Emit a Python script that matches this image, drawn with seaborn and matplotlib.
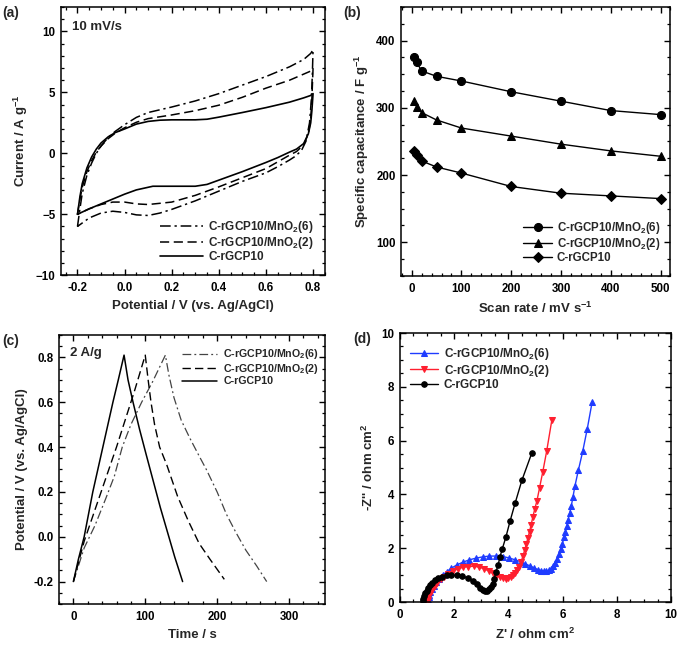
import matplotlib
matplotlib.use('Agg')
import matplotlib.pyplot as plt
from matplotlib.ticker import MultipleLocator, FormatStrFormatter
import seaborn as sns

# ---- (a) cyclic voltammograms at 10 mV/s (closed loops, listed in drawing order)
cv6_x = [-0.2, -0.19, -0.18, -0.16, -0.14, -0.12, -0.1, -0.07, -0.04, 0.0, 0.05, 0.1, 0.2, 0.3, 0.4, 0.5, 0.6, 0.7, 0.76, 0.79, 0.8,
         0.797, 0.793, 0.785, 0.77, 0.75, 0.72, 0.7, 0.65, 0.6, 0.5, 0.4, 0.3, 0.2, 0.15, 0.1, 0.05, 0.0, -0.05, -0.1, -0.15, -0.2]
cv6_y = [-6.0, -4.6, -3.3, -1.8, -0.8, 0.0, 0.6, 1.3, 1.8, 2.35, 2.95, 3.35, 3.8, 4.3, 4.9, 5.6, 6.3, 7.1, 7.7, 8.2, 8.5,
         6.5, 4.5, 2.5, 1.0, 0.2, -0.3, -0.55, -1.1, -1.6, -2.3, -3.1, -3.9, -4.6, -4.9, -5.1, -5.05, -4.85, -4.75, -4.9, -5.3, -6.0]
cv2_x = [-0.2, -0.19, -0.18, -0.16, -0.14, -0.12, -0.1, -0.07, -0.04, 0.0, 0.05, 0.1, 0.2, 0.3, 0.4, 0.5, 0.6, 0.7, 0.76, 0.79, 0.8,
         0.795, 0.79, 0.78, 0.76, 0.73, 0.7, 0.65, 0.6, 0.5, 0.4, 0.3, 0.2, 0.1, 0.05, 0.0, -0.05, -0.1, -0.15, -0.2]
cv2_y = [-5.0, -3.8, -2.8, -1.5, -0.6, 0.1, 0.6, 1.2, 1.65, 2.1, 2.55, 2.85, 3.15, 3.5, 3.95, 4.6, 5.35, 6.0, 6.5, 6.75, 7.0,
         4.5, 2.8, 1.6, 0.7, 0.15, -0.15, -0.7, -1.25, -2.0, -2.75, -3.45, -4.0, -4.2, -4.15, -4.0, -4.0, -4.2, -4.55, -5.0]
cv0_x = [-0.2, -0.19, -0.18, -0.16, -0.14, -0.12, -0.1, -0.07, -0.04, 0.0, 0.05, 0.1, 0.15, 0.2, 0.3, 0.35, 0.4, 0.5, 0.6, 0.7, 0.76, 0.79, 0.8,
         0.795, 0.79, 0.78, 0.76, 0.73, 0.7, 0.65, 0.6, 0.5, 0.4, 0.35, 0.3, 0.2, 0.12, 0.05, 0.0, -0.05, -0.1, -0.15, -0.2]
cv0_y = [-5.0, -3.6, -2.5, -1.2, -0.3, 0.35, 0.85, 1.35, 1.7, 2.0, 2.4, 2.62, 2.72, 2.75, 2.75, 2.8, 2.97, 3.35, 3.75, 4.2, 4.55, 4.75, 4.9,
         3.5, 2.5, 1.6, 0.8, 0.35, 0.1, -0.35, -0.75, -1.5, -2.2, -2.55, -2.7, -2.7, -2.7, -3.0, -3.35, -3.75, -4.15, -4.55, -5.0]

# ---- (b) specific capacitance vs scan rate
scan_rate = [5, 10, 20, 50, 100, 200, 300, 400, 500]
cap_mno2_6 = [375, 368, 355, 347, 340, 324, 310, 296, 290]
cap_mno2_2 = [310, 302, 293, 282, 270, 258, 246, 236, 228]
cap_rgcp10 = [236, 230, 221, 212, 203, 183, 173, 169, 165]

# ---- (c) galvanostatic charge/discharge at 2 A/g
gcd6_t = [0, 15, 30, 45, 57, 68, 80, 95, 110, 128, 133, 140, 150, 162, 175, 185, 200, 213, 226, 240, 255, 269]
gcd6_v = [-0.2, -0.05, 0.05, 0.17, 0.27, 0.4, 0.5, 0.6, 0.69, 0.81, 0.72, 0.62, 0.52, 0.44, 0.36, 0.3, 0.2, 0.1, 0.02, -0.06, -0.13, -0.2]
gcd2_t = [0, 15, 30, 45, 60, 75, 85, 100, 104, 108, 113, 120, 130, 145, 160, 175, 190, 210]
gcd2_v = [-0.2, -0.02, 0.12, 0.26, 0.4, 0.55, 0.65, 0.81, 0.7, 0.6, 0.5, 0.4, 0.32, 0.18, 0.07, -0.03, -0.1, -0.19]
gcd0_t = [0, 7, 15, 21, 27, 34, 41, 48, 55, 62.5, 70.5, 76, 83, 92, 101, 111, 121, 131, 141, 152]
gcd0_v = [-0.2, -0.1, 0.0, 0.1, 0.2, 0.3, 0.4, 0.5, 0.6, 0.7, 0.81, 0.7, 0.6, 0.48, 0.37, 0.25, 0.13, 0.02, -0.09, -0.2]

# ---- (d) Nyquist plots
eis6_re = [1.03, 1.04, 1.06, 1.09, 1.13, 1.18, 1.25, 1.34, 1.45, 1.58, 1.73, 1.9, 2.1, 2.32, 2.56, 2.8, 3.05, 3.3, 3.55, 3.8,
           4.03, 4.25, 4.45, 4.63, 4.8, 4.95, 5.08, 5.2, 5.3, 5.4, 5.49, 5.58, 5.66, 5.73, 5.8, 5.87, 5.93, 5.99, 6.05, 6.1,
           6.15, 6.2, 6.26, 6.32, 6.38, 6.45, 6.58, 6.74, 6.91, 7.09]
eis6_im = [0.0, 0.08, 0.17, 0.27, 0.37, 0.48, 0.6, 0.73, 0.87, 1.0, 1.13, 1.26, 1.38, 1.48, 1.57, 1.63, 1.68, 1.71, 1.71, 1.69,
           1.64, 1.57, 1.5, 1.42, 1.34, 1.27, 1.21, 1.17, 1.15, 1.15, 1.18, 1.24, 1.33, 1.45, 1.6, 1.78, 1.96, 2.16, 2.4, 2.6,
           2.82, 3.05, 3.3, 3.58, 3.9, 4.3, 4.9, 5.6, 6.45, 7.45]
eis2_re = [1.0, 1.02, 1.05, 1.09, 1.14, 1.2, 1.28, 1.38, 1.5, 1.63, 1.78, 1.95, 2.13, 2.32, 2.52, 2.72, 2.92, 3.1, 3.27, 3.42,
           3.56, 3.68, 3.79, 3.9, 4.0, 4.1, 4.18, 4.26, 4.33, 4.4, 4.47, 4.54, 4.6, 4.66, 4.72, 4.78, 4.84, 4.9, 4.97, 5.05,
           5.15, 5.27, 5.41, 5.6]
eis2_im = [0.0, 0.08, 0.17, 0.27, 0.37, 0.48, 0.6, 0.72, 0.84, 0.95, 1.05, 1.15, 1.23, 1.29, 1.32, 1.33, 1.3, 1.24, 1.16, 1.07,
           0.98, 0.92, 0.88, 0.87, 0.88, 0.92, 0.99, 1.08, 1.2, 1.3, 1.5, 1.72, 1.93, 2.15, 2.38, 2.62, 2.88, 3.15, 3.45, 3.75,
           4.25, 4.85, 5.6, 6.75]
eis0_re = [0.85, 0.87, 0.9, 0.94, 0.99, 1.05, 1.12, 1.2, 1.3, 1.42, 1.56, 1.72, 1.9, 2.1, 2.3, 2.5, 2.68, 2.84, 2.97, 3.07,
           3.15, 3.23, 3.3, 3.36, 3.42, 3.48, 3.54, 3.62, 3.69, 3.78, 3.91, 4.06, 4.25, 4.5, 4.86]
eis0_im = [0.05, 0.13, 0.22, 0.32, 0.42, 0.52, 0.62, 0.72, 0.81, 0.89, 0.95, 0.99, 1.0, 0.99, 0.96, 0.9, 0.8, 0.67, 0.54, 0.45,
           0.41, 0.42, 0.47, 0.55, 0.68, 0.87, 1.12, 1.37, 1.68, 1.99, 2.42, 3.0, 3.68, 4.53, 5.53]

lab6 = r'C-rGCP10/MnO$_2$(6)'
lab2 = r'C-rGCP10/MnO$_2$(2)'
lab0 = 'C-rGCP10'

DASHDOT = (0, (7, 2.5, 1.5, 2.5))
DASHED = (0, (6, 3))

sns.set_theme(style='ticks')
plt.rcParams.update({
    'font.family': ['Liberation Sans', 'DejaVu Sans'],
    'font.weight': 'bold',
    'axes.labelweight': 'bold',
    'axes.labelsize': 9.5,
    'xtick.labelsize': 8.3,
    'ytick.labelsize': 8.3,
    'axes.linewidth': 1.1,
    'xtick.direction': 'in',
    'ytick.direction': 'in',
    'xtick.top': True,
    'ytick.right': True,
    'xtick.major.size': 4.5,
    'ytick.major.size': 4.5,
    'xtick.minor.size': 2.5,
    'ytick.minor.size': 2.5,
    'xtick.major.width': 1.0,
    'ytick.major.width': 1.0,
    'xtick.minor.width': 0.9,
    'ytick.minor.width': 0.9,
    'xtick.major.pad': 5,
    'ytick.major.pad': 4,
    'mathtext.fontset': 'custom',
    'mathtext.rm': 'Liberation Sans:bold',
    'mathtext.it': 'Liberation Sans:bold',
    'mathtext.bf': 'Liberation Sans:bold',
    'mathtext.default': 'rm',
    'axes.edgecolor': 'black',
    'xtick.color': 'black',
    'ytick.color': 'black',
})

fig = plt.figure(figsize=(6.8, 6.46), dpi=100)
ax_a = fig.add_axes([0.0897, 0.574, 0.388, 0.415])
ax_b = fig.add_axes([0.590, 0.573, 0.396, 0.416])
ax_c = fig.add_axes([0.0868, 0.065, 0.391, 0.4165])
ax_d = fig.add_axes([0.588, 0.068, 0.399, 0.4165])


def style_axes(ax, xlim, ylim, xmaj, xmin, ymaj, ymin, xfmt=None, yfmt=None):
    ax.set_xlim(*xlim)
    ax.set_ylim(*ylim)
    ax.xaxis.set_major_locator(MultipleLocator(xmaj))
    ax.xaxis.set_minor_locator(MultipleLocator(xmin))
    ax.yaxis.set_major_locator(MultipleLocator(ymaj))
    ax.yaxis.set_minor_locator(MultipleLocator(ymin))
    ax.tick_params(which='both', top=True, right=True, direction='in')
    if xfmt:
        ax.xaxis.set_major_formatter(FormatStrFormatter(xfmt))
    if yfmt:
        ax.yaxis.set_major_formatter(FormatStrFormatter(yfmt))


# (a)
sns.lineplot(x=cv6_x, y=cv6_y, sort=False, estimator=None, ax=ax_a, color='black', lw=1.1, linestyle=DASHDOT, label=lab6)
sns.lineplot(x=cv2_x, y=cv2_y, sort=False, estimator=None, ax=ax_a, color='black', lw=1.1, linestyle=DASHED, label=lab2)
sns.lineplot(x=cv0_x, y=cv0_y, sort=False, estimator=None, ax=ax_a, color='black', lw=1.2, linestyle='-', label=lab0)
style_axes(ax_a, (-0.27, 0.85), (-10, 12), 0.2, 0.05, 5, 1, xfmt='%.1f')
ax_a.set_yticks([-10, -5, 0, 5, 10])
ax_a.set_xlabel('Potential / V (vs. Ag/AgCl)')
ax_a.set_ylabel(r'Current / A g$^{-1}$')
ax_a.text(0.04, 0.95, '10 mV/s', transform=ax_a.transAxes, fontsize=9.5, fontweight='bold', va='top')
ax_a.legend(loc='lower right', bbox_to_anchor=(1.0, 0.005), frameon=False, fontsize=8.5,
            handlelength=3.6, labelspacing=0.02, handletextpad=0.5)

# (b)
sns.lineplot(x=scan_rate, y=cap_mno2_6, ax=ax_b, color='black', lw=1.0, marker='o', markersize=5.8,
             markeredgecolor='black', label=lab6)
sns.lineplot(x=scan_rate, y=cap_mno2_2, ax=ax_b, color='black', lw=1.0, marker='^', markersize=5.8,
             markeredgecolor='black', label=lab2)
sns.lineplot(x=scan_rate, y=cap_rgcp10, ax=ax_b, color='black', lw=1.0, marker='D', markersize=5.0,
             markeredgecolor='black', label=lab0)
style_axes(ax_b, (-21, 520), (50, 450), 100, 20, 100, 25)
ax_b.set_xlabel(r'Scan rate / mV s$^{-1}$')
ax_b.set_ylabel(r'Specific capacitance / F g$^{-1}$')
ax_b.legend(loc='lower right', bbox_to_anchor=(1.0, 0.005), frameon=False, fontsize=8.3,
            handlelength=2.5, labelspacing=0.02, handletextpad=0.4)

# (c)
sns.lineplot(x=gcd6_t, y=gcd6_v, sort=False, estimator=None, ax=ax_c, color='#444444', lw=0.9, linestyle=DASHDOT, label=lab6)
sns.lineplot(x=gcd2_t, y=gcd2_v, sort=False, estimator=None, ax=ax_c, color='black', lw=1.0, linestyle=DASHED, label=lab2)
sns.lineplot(x=gcd0_t, y=gcd0_v, sort=False, estimator=None, ax=ax_c, color='black', lw=1.1, linestyle='-', label=lab0)
style_axes(ax_c, (-20, 350), (-0.3, 0.9), 100, 20, 0.2, 0.05, yfmt='%.1f')
ax_c.set_xlabel('Time / s')
ax_c.set_ylabel('Potential / V (vs. Ag/AgCl)')
ax_c.text(0.04, 0.955, '2 A/g', transform=ax_c.transAxes, fontsize=9.5, fontweight='bold', va='top')
ax_c.legend(loc='upper right', bbox_to_anchor=(1.015, 0.99), frameon=False, fontsize=7.7,
            handlelength=3.3, labelspacing=0.05, handletextpad=0.6)

# (d)
sns.lineplot(x=eis6_re, y=eis6_im, sort=False, estimator=None, ax=ax_d, color='#1f3cff', lw=1.0, marker='^',
             markersize=4.2, markeredgecolor='#1f3cff', label=lab6)
sns.lineplot(x=eis2_re, y=eis2_im, sort=False, estimator=None, ax=ax_d, color='#ff1f2f', lw=1.0, marker='v',
             markersize=4.2, markeredgecolor='#ff1f2f', label=lab2)
sns.lineplot(x=eis0_re, y=eis0_im, sort=False, estimator=None, ax=ax_d, color='black', lw=1.0, marker='o',
             markersize=4.0, markeredgecolor='black', label=lab0)
style_axes(ax_d, (0, 10), (0, 10), 2, 0.5, 2, 0.5)
ax_d.set_xlabel(r"Z' / ohm cm$^2$")
ax_d.set_ylabel(r"-Z'' / ohm cm$^2$")
ax_d.legend(loc='upper left', bbox_to_anchor=(0.0, 0.99), frameon=False, fontsize=8.5,
            handlelength=2.3, labelspacing=0.02, handletextpad=0.5)

for txt, x, y in [('(a)', 0.004, 0.98), ('(b)', 0.505, 0.98), ('(c)', 0.004, 0.472), ('(d)', 0.52, 0.475)]:
    fig.text(x, y, txt, fontsize=10, fontweight='bold', va='center')

fig.savefig('out.png', dpi=100)
